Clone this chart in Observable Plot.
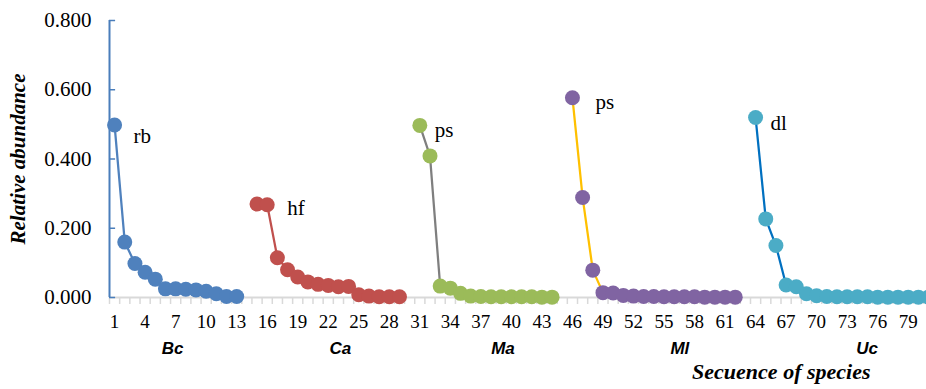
<!DOCTYPE html>
<html>
<head>
<meta charset="utf-8">
<script src="https://cdn.jsdelivr.net/npm/d3@7"></script>
<script src="https://cdn.jsdelivr.net/npm/@observablehq/plot@0.6"></script>
<style>
  html, body { margin: 0; padding: 0; background: white; overflow: hidden; }
</style>
</head>
<body>
<div id="chart"></div>
<script>
// ---- data ----
const groups = ["Bc", "Ca", "Ma", "Ml", "Uc"];
const groupStarts = [1, 15, 31, 46, 64];
const Bc = [0.498, 0.160, 0.098, 0.073, 0.053, 0.025, 0.025, 0.024, 0.022, 0.018, 0.011, 0.003, 0.003];
const Ca = [0.270, 0.268, 0.115, 0.080, 0.059, 0.045, 0.038, 0.035, 0.031, 0.032, 0.008, 0.004, 0.002, 0.002, 0.002];
const Ma = [0.497, 0.409, 0.033, 0.027, 0.012, 0.004, 0.003, 0.002, 0.002, 0.002, 0.002, 0.002, 0.001, 0.001];
const Ml = [0.577, 0.289, 0.079, 0.014, 0.013, 0.006, 0.004, 0.003, 0.003, 0.002, 0.002, 0.002, 0.002, 0.001, 0.001, 0.001, 0.001];
const Uc = [0.520, 0.227, 0.150, 0.036, 0.031, 0.011, 0.005, 0.003, 0.002, 0.002, 0.002, 0.002, 0.001, 0.001, 0.001, 0.001, 0.001, 0.001];
const seriesValues = [Bc, Ca, Ma, Ml, Uc];
const peakLabels = ["rb", "hf", "ps", "ps", "dl"];
const peakIndex = [0, 1, 0, 0, 0];
const xTickLabels = d3.range(1, 80, 3);
const yTickLabels = [0, 0.2, 0.4, 0.6, 0.8];
const xTitle = "Secuence of species";
const yTitle = "Relative abundance";

// ---- styles ----
const dotColors = ["#4F81BD", "#C0504D", "#9BBB59", "#8064A2", "#4BACC6"];
const lineColors = ["#4F81BD", "#C0504D", "#7F7F7F", "#FFC000", "#0070C0"];
const peakDx = [19, 20, 15, 23, 15];
const peakDy = [11, 4, 5, 5, 6];
const groupDx = [-3, 12, 17, 26, 25];
const axisBlue = "#4A7EBB";
const grid = "#D9D9D9";

// ---- table ----
const rows = [];
groups.forEach((g, gi) => {
  seriesValues[gi].forEach((v, i) => rows.push({group: g, x: groupStarts[gi] + i, y: v}));
});
const lastX = d3.max(rows, d => d.x);
const boundaries = d3.range(0.5, lastX, 1);

const seriesMarks = [];
groups.forEach((g, gi) => {
  const data = rows.filter(d => d.group === g);
  seriesMarks.push(Plot.line(data, {x: "x", y: "y", stroke: lineColors[gi], strokeWidth: 2.25}));
});
groups.forEach((g, gi) => {
  const data = rows.filter(d => d.group === g);
  seriesMarks.push(Plot.dot(data, {x: "x", y: "y", r: 7.5, fill: dotColors[gi], stroke: "none"}));
});
groups.forEach((g, gi) => {
  const data = rows.filter(d => d.group === g);
  const p = data[peakIndex[gi]];
  seriesMarks.push(Plot.text([{x: p.x, y: p.y, t: peakLabels[gi]}], {
    x: "x", y: "y", text: "t", dx: peakDx[gi], dy: peakDy[gi], textAnchor: "start",
    fontSize: 21, fill: "black", fontFamily: "Liberation Serif"
  }));
  const mid = groupStarts[gi] + (seriesValues[gi].length - 1) / 2;
  seriesMarks.push(Plot.text([{x: mid, y: 0, t: g}], {
    x: "x", y: "y", text: "t", dx: groupDx[gi], dy: 51, textAnchor: "middle",
    fontSize: 17, fontWeight: "bold", fontStyle: "italic", fill: "black", fontFamily: "Liberation Sans"
  }));
});

const chart = Plot.plot({
  width: 926,
  height: 389,
  marginLeft: 109,
  marginRight: 0,
  marginTop: 20,
  marginBottom: 92,
  x: {domain: [0.5, 80.8]},
  y: {domain: [0, 0.8]},
  style: {fontFamily: "Liberation Serif", background: "white", color: "black", overflow: "visible"},
  marks: [
    Plot.ruleY([0], {stroke: grid, strokeWidth: 2}),
    Plot.axisX({ticks: boundaries, tickSize: 7, tickFormat: () => "", stroke: grid, strokeWidth: 1.5, strokeOpacity: 1, label: null}),
    Plot.axisX({ticks: xTickLabels, tickSize: 0, tickPadding: 17, fontSize: 19, fill: "black", label: null}),
    Plot.axisY({ticks: yTickLabels, tickSize: 0, tickPadding: 18, tickFormat: d3.format(".3f"), fontSize: 21, fill: "black", label: null}),
    Plot.ruleX([0.5], {stroke: axisBlue, strokeWidth: 2}),
    Plot.ruleY(yTickLabels, {y: d => d, x1: 0.5, x2: 1.1, stroke: axisBlue, strokeWidth: 1.5}),
    ...seriesMarks,
    Plot.text([yTitle], {frameAnchor: "left", text: d => d, rotate: -90, dx: -91, textAnchor: "middle",
      fontSize: 21, fontWeight: "bold", fontStyle: "italic", fill: "black"}),
    Plot.text([xTitle], {frameAnchor: "bottom-right", text: d => d, dx: -56, dy: 81, textAnchor: "end",
      fontSize: 22, fontWeight: "bold", fontStyle: "italic", fill: "black"})
  ]
});
document.getElementById("chart").appendChild(chart);
</script>
</body>
</html>
